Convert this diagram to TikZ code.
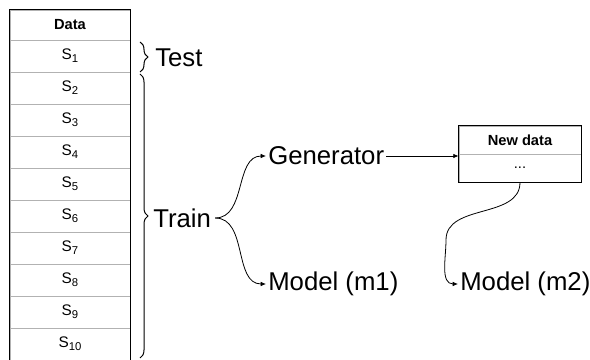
\documentclass[tikz,border=0pt]{standalone}
\usepackage{fontspec}
\setmainfont{Liberation Sans}
\usetikzlibrary{arrows.meta,decorations.pathreplacing}
\newcommand{\sub}[1]{\raisebox{-0.35ex}{\fontsize{8.5}{10}\selectfont #1}}
\begin{document}
\begin{tikzpicture}[x=0.75pt,y=-0.75pt,
  cell/.style={draw=black!30,line width=0.6pt,minimum width=90pt,minimum height=24pt,inner sep=0pt,font=\fontsize{11.5}{13}\selectfont},
  hdr/.style={cell,minimum height=22.5pt,font=\fontsize{11}{13}\selectfont\bfseries},
  ndcell/.style={draw=black!30,line width=0.6pt,minimum width=91.5pt,minimum height=21pt,inner sep=0pt,font=\fontsize{11}{13}\selectfont},
  border/.style={draw=black,line width=1.1pt},
  lbl/.style={anchor=west,inner sep=0pt,font=\fontsize{19.3}{23}\selectfont},
  conn/.style={draw=black,line width=0.6pt,-{Latex[length=4pt,width=3.5pt]}},
  brc/.style={draw=black,line width=0.75pt,decorate,decoration={brace,amplitude=6pt}}]
\useasboundingbox (0,0) rectangle (590,360);
% data table
\node[hdr] (hd) at (70,25) {Data};
\foreach \i in {1,...,10}{
  \node[cell] (s\i) at (70,{24+32*\i}) {S\sub{\i}};
}
\draw[border] (hd.north west) rectangle (s10.south east);
% braces
\coordinate (tb1) at (140,42);
\coordinate (tb2) at (140,72);
\coordinate (rb1) at (140,74);
\coordinate (rb2) at (140,358);
\draw[brc] (tb1) -- (tb2);
\draw[brc] (rb1) -- (rb2);
\node[lbl] (test) at (155,58) {Test};
\node[lbl] (train) at (153,218) {Train};
% right part
\node[lbl] (gen) at (268,156) {Generator};
\node[lbl] (m1) at (268,284) {Model (m1)};
\node[lbl] (m2) at (460,284) {Model (m2)};
\node[ndcell,font=\fontsize{11}{13}\selectfont\bfseries] (ndh) at (520,140) {New data};
\node[ndcell] (ndr) at (520,168) {...};
\draw[border] (ndh.north west) rectangle (ndr.south east);
% connectors
\draw[conn] ([xshift=3pt]train.east) to[out=0,in=180] ([xshift=-1.5pt]gen.west);
\draw[conn] ([xshift=3pt]train.east) to[out=0,in=180] ([xshift=-1.5pt]m1.west);
\draw[conn] ([xshift=1.5pt]gen.east) -- (gen.east -| ndh.west);
\coordinate (mid2) at (446,240);
\draw[conn] (ndr.south) to[out=-90,in=90] (mid2) to[out=-90,in=180] ([xshift=-1.5pt]m2.west);
\end{tikzpicture}
\end{document}
